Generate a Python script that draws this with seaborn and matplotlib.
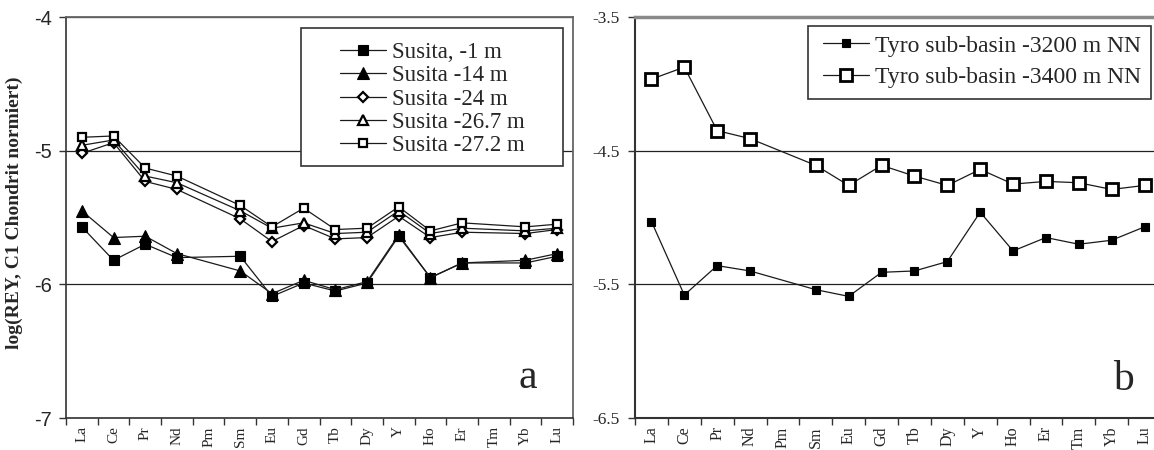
import numpy as np
import pandas as pd
import seaborn as sns
import matplotlib
matplotlib.use("Agg")
import matplotlib.pyplot as plt
from matplotlib.patches import Rectangle

# ---------------- data ----------------
elements = ["La", "Ce", "Pr", "Nd", "Pm", "Sm", "Eu", "Gd", "Tb", "Dy",
            "Y", "Ho", "Er", "Tm", "Yb", "Lu"]
nan = np.nan
susita_1 = [-5.57, -5.82, -5.70, -5.80, nan, -5.79, -6.09, -5.99, -6.05, -5.99,
            -5.64, -5.95, -5.84, nan, -5.84, -5.79]
susita_14 = [-5.45, -5.65, -5.64, -5.77, nan, -5.90, -6.07, -5.97, -6.04, -5.98,
             -5.63, -5.95, -5.84, nan, -5.82, -5.77]
susita_24 = [-5.02, -4.94, -5.23, -5.29, nan, -5.51, -5.68, -5.56, -5.66, -5.65,
             -5.49, -5.65, -5.61, nan, -5.62, -5.59]
susita_267 = [-4.96, -4.92, -5.19, -5.24, nan, -5.45, -5.58, -5.54, -5.62, -5.61,
              -5.45, -5.62, -5.58, nan, -5.60, -5.58]
susita_272 = [-4.90, -4.89, -5.13, -5.19, nan, -5.41, -5.57, -5.43, -5.59, -5.58,
              -5.42, -5.60, -5.54, nan, -5.57, -5.55]
tyro_3200 = [-5.03, -5.58, -5.36, -5.40, nan, -5.54, -5.59, -5.41, -5.40, -5.33,
             -4.96, -5.25, -5.15, -5.20, -5.17, -5.07]
tyro_3400 = [-3.965, -3.875, -4.35, -4.41, nan, -4.61, -4.76, -4.61, -4.69, -4.76,
             -4.64, -4.75, -4.73, -4.74, -4.79, -4.76]

left_labels = ["Susita, -1 m", "Susita -14 m", "Susita -24 m",
               "Susita -26.7 m", "Susita -27.2 m"]
right_labels = ["Tyro sub-basin -3200 m NN", "Tyro sub-basin -3400 m NN"]
left_yticks = [-7, -6, -5, -4]
right_yticks = [-6.5, -5.5, -4.5, -3.5]
y_label = "log(REY, C1 Chondrit normiert)"

# ---------------- style ----------------
sns.set_theme(style="ticks")
plt.rcParams["font.family"] = ["Liberation Serif", "DejaVu Serif"]

W, H = 1154, 450
fig = plt.figure(figsize=(W / 100, H / 100), dpi=100)
fig.patch.set_facecolor("white")
axL = fig.add_axes([66 / W, 1 - 418 / H, 507 / W, 401 / H])
axR = fig.add_axes([635 / W, 1 - 418 / H, 526 / W, 401 / H])

pos = np.arange(len(elements))
LC = "#1a1a1a"


def draw(ax, values, label, marker, ms, mfc, mew):
    df = pd.DataFrame({"pos": pos, "val": values}).dropna()
    sns.lineplot(data=df, x="pos", y="val", ax=ax, color=LC, linewidth=0.9,
                 marker=marker, markersize=ms, markerfacecolor=mfc,
                 markeredgecolor="black", markeredgewidth=mew,
                 label=label, errorbar=None, sort=True)


left_series = [susita_1, susita_14, susita_24, susita_267, susita_272]
left_styles = [("s", 7, "black", 0.8), ("^", 8, "black", 0.8),
               ("D", 5.5, "white", 1.6), ("^", 7.5, "white", 1.6),
               ("s", 5.5, "white", 1.6)]
for vals, lab, st in zip(left_series, left_labels, left_styles):
    draw(axL, vals, lab, *st)

right_series = [tyro_3200, tyro_3400]
right_styles = [("s", 6, "black", 0.8), ("s", 8.5, "white", 2.0)]
for vals, lab, st in zip(right_series, right_labels, right_styles):
    draw(axR, vals, lab, *st)

# ---------------- axes formatting ----------------
for ax, yt, ylim, xfs in [(axL, left_yticks, (-7, -4), 11),
                          (axR, right_yticks, (-6.5, -3.5), 11.5)]:
    ax.set_xlim(-0.5, len(elements) - 0.5)
    ax.set_ylim(*ylim)
    ax.set_xticks(pos, elements, rotation=90, fontsize=xfs)
    ax.set_xticks(np.arange(-0.5, len(elements), 1.0), minor=True)
    ax.tick_params(axis="x", which="major", length=0, pad=6)
    ax.tick_params(axis="x", which="minor", length=5, width=1, color="#333",
                   direction="out")
    ax.tick_params(axis="y", which="major", length=5, width=1, color="#333",
                   direction="out")
    ax.yaxis.grid(True, color="#222", linewidth=0.9)
    ax.xaxis.grid(False)
    ax.set_xlabel("")
    ax.set_ylabel("")
    ax.set_facecolor("white")

axL.set_yticks(left_yticks, labels=[f"{v:g}" for v in left_yticks],
               fontfamily="Liberation Sans", fontsize=14.5)
axL.tick_params(axis="y", pad=5)
axR.set_yticks(right_yticks, labels=[f"{v:.1f}" for v in right_yticks],
               fontsize=12.5)
axR.tick_params(axis="y", pad=6)

for s in ["top", "right"]:
    axL.spines[s].set_color("#666")
    axL.spines[s].set_linewidth(1.3)
for s in ["left", "bottom"]:
    axL.spines[s].set_color("#333")
    axL.spines[s].set_linewidth(1.2)
    axR.spines[s].set_color("#333")
    axR.spines[s].set_linewidth(1.5)
axR.spines["top"].set_color("#8a8a8a")
axR.spines["top"].set_linewidth(2.5)
axR.spines["right"].set_color("#666")

axL.set_ylabel(y_label, fontweight="bold", fontsize=14)
axL.yaxis.set_label_coords(-0.085, 0.511)

axL.text(0.911, 0.10, "a", transform=axL.transAxes, fontsize=30,
         ha="center", va="center")
axR.text(0.928, 0.095, "b", transform=axR.transAxes, fontsize=30,
         ha="center", va="center")

# ---------------- legends ----------------
axL.add_patch(Rectangle((301 / W, 1 - 166 / H), 262 / W, 138 / H,
                        transform=fig.transFigure, facecolor="white",
                        edgecolor="#333", linewidth=1.2, zorder=4,
                        clip_on=False))
legL = axL.legend(loc="center left", bbox_to_anchor=(340 / W, 1 - 99 / H),
                  bbox_transform=fig.transFigure, frameon=False, borderpad=0,
                  borderaxespad=0, handlelength=2.0, handletextpad=0.25,
                  labelspacing=0.1, fontsize=16.5)
legL.set_zorder(5)

axR.add_patch(Rectangle((808 / W, 1 - 99 / H), 343 / W, 73 / H,
                        transform=fig.transFigure, facecolor="white",
                        edgecolor="#333", linewidth=1.2, zorder=4,
                        clip_on=False))
legR = axR.legend(loc="center left", bbox_to_anchor=(823 / W, 1 - 61.5 / H),
                  bbox_transform=fig.transFigure, frameon=False, borderpad=0,
                  borderaxespad=0, handlelength=1.95, handletextpad=0.25,
                  labelspacing=0.42, fontsize=17)
legR.set_zorder(5)

fig.savefig("out.png", dpi=100)
